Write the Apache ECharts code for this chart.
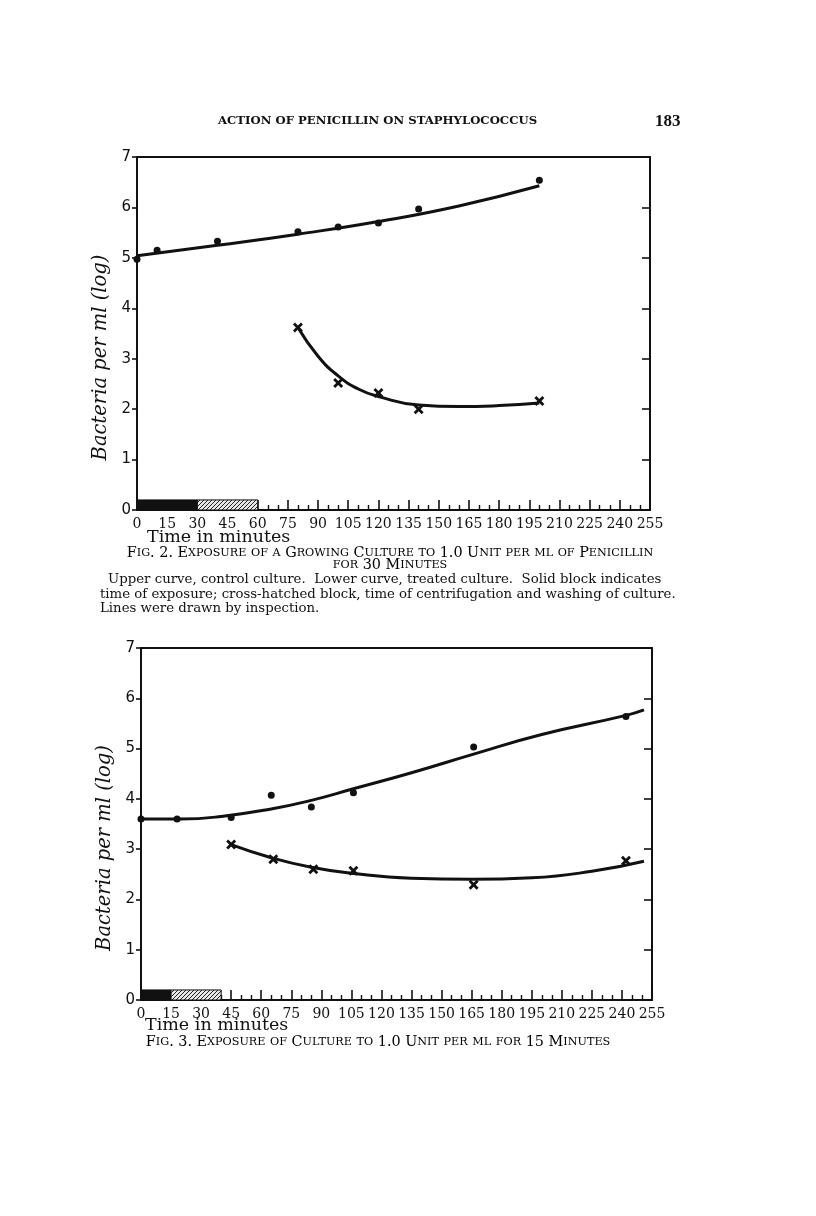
<!DOCTYPE html>
<html><head><meta charset="utf-8">
<script src="https://cdn.jsdelivr.net/npm/echarts@6/dist/echarts.min.js"></script>
<style>html,body{margin:0;padding:0;background:#fff}#c{width:816px;height:1216px}</style>
</head><body><div id="c"></div>
<script>
// ---------- DATA ----------
const xTicks = [0,15,30,45,60,75,90,105,120,135,150,165,180,195,210,225,240,255];
const yTicks = [0,1,2,3,4,5,6,7];

// Fig. 2 – control culture (dots) and drawn line
const fig2CtrlTime = [0,10,40,80,100,120,140,200];
const fig2CtrlLog  = [4.97,5.15,5.33,5.52,5.61,5.69,5.97,6.54];
const fig2CtrlLineTime = [0,40,80,120,160,200];
const fig2CtrlLineLog  = [5.04,5.25,5.47,5.72,6.03,6.43];
// Fig. 2 – treated culture (crosses) and drawn line
const fig2TreatTime = [80,100,120,140,200];
const fig2TreatLog  = [3.62,2.52,2.32,2.0,2.16];
const fig2TreatLineTime = [80,90,100,110,120,140,160,180,200];
const fig2TreatLineLog  = [3.62,3.05,2.66,2.40,2.25,2.08,2.05,2.07,2.12];
// Fig. 2 blocks: [start, end] minutes
const fig2Exposure = [0,30];
const fig2Washing  = [30,60];

// Fig. 3 – control culture
const fig3CtrlTime = [0,18,45,65,85,106,166,242];
const fig3CtrlLog  = [3.6,3.6,3.63,4.07,3.84,4.12,5.03,5.64];
const fig3CtrlLineTime = [0,20,40,65,85,106,135,166,200,242,251];
const fig3CtrlLineLog  = [3.6,3.6,3.65,3.8,3.97,4.2,4.52,4.89,5.28,5.66,5.77];
// Fig. 3 – treated culture
const fig3TreatTime = [45,66,86,106,166,242];
const fig3TreatLog  = [3.09,2.8,2.6,2.57,2.29,2.77];
const fig3TreatLineTime = [45,65,85,105,135,165,195,225,251];
const fig3TreatLineLog  = [3.09,2.83,2.64,2.52,2.42,2.4,2.43,2.56,2.76];
// Fig. 3 blocks
const fig3Exposure = [0,15];
const fig3Washing  = [15,40];

// ---------- TEXT ----------
const headerText = 'ACTION OF PENICILLIN ON STAPHYLOCOCCUS';
const pageNo = '183';
const yName = 'Bacteria per ml (log)';
const xName = 'Time in minutes';
const fig2Cap1 = 'Fig. 2. Exposure of a Growing Culture to 1.0 Unit per ml of Penicillin';
const fig2Cap2 = 'for 30 Minutes';
const fig2Para = ['Upper curve, control culture.  Lower curve, treated culture.  Solid block indicates',
  'time of exposure; cross-hatched block, time of centrifugation and washing of culture.',
  'Lines were drawn by inspection.'];
const fig3Cap = 'Fig. 3. Exposure of Culture to 1.0 Unit per ml for 15 Minutes';

// ---------- BUILD ----------
const zip = (a,b) => a.map((v,i)=>[v,b[i]]);
const INK = '#111';
const BLOCK_H = 0.2;

function hatch(){
  const c = document.createElement('canvas'); c.width=4; c.height=4;
  const g = c.getContext('2d');
  g.fillStyle='#e8e8e8'; g.fillRect(0,0,4,4);
  g.strokeStyle='#222'; g.lineWidth=1;
  g.beginPath(); g.moveTo(0,4); g.lineTo(4,0); g.moveTo(-1,1); g.lineTo(1,-1); g.moveTo(3,5); g.lineTo(5,3); g.stroke();
  return c;
}
const hatchImg = hatch();

function smallCaps(str){
  let out=''; let i=0;
  while(i<str.length){
    const isLow = /[a-z]/.test(str[i]);
    let j=i; while(j<str.length && (/[a-z]/.test(str[j]))===isLow) j++;
    const seg=str.slice(i,j);
    out += isLow ? '{s|'+seg.toUpperCase()+'}' : '{b|'+seg+'}';
    i=j;
  }
  return out;
}
const scRich = {b:{fontFamily:'DejaVu Serif',fontSize:14.4,color:INK}, s:{fontFamily:'DejaVu Serif',fontSize:11.2,color:INK}};

const crossSym = 'path://M0,2L2,0L5,3L8,0L10,2L7,5L10,8L8,10L5,7L2,10L0,8L3,5Z';

function grids(){ return [
  {left:137, top:157, width:513, height:353},
  {left:141, top:648, width:511, height:352}
];}

function xAxes(gi){
  return [
    {type:'value', gridIndex:gi, position:'bottom', min:0, max:255, interval:15,
     axisLine:{show:true,lineStyle:{color:INK,width:2}},
     axisTick:{show:true,inside:true,length:10,lineStyle:{color:INK,width:1.6}},
     minorTick:{show:true,splitNumber:3,length:5,lineStyle:{color:INK,width:1.4}},
     splitLine:{show:false},
     axisLabel:{margin:7,color:INK,fontFamily:'DejaVu Serif',fontSize:14,
       customValues: xTicks, formatter:v=>String(v)}},
    {type:'value', gridIndex:gi, position:'top', min:0, max:255,
     axisLine:{show:true,onZero:false,lineStyle:{color:INK,width:2}},
     axisTick:{show:false}, axisLabel:{show:false}, splitLine:{show:false}}
  ];
}
function yAxes(gi){
  return [
    {type:'value', gridIndex:gi, position:'left', min:0, max:7, interval:1,
     name:yName, nameLocation:'middle', nameGap:14, nameRotate:90,
     nameTextStyle:{fontFamily:'DejaVu Serif',fontStyle:'italic',fontSize:19.5,color:INK,padding:[0,48,0,0]},
     axisLine:{show:true,onZero:false,lineStyle:{color:INK,width:2}},
     axisTick:{show:true,inside:false,length:5,lineStyle:{color:INK,width:1.6}},
     splitLine:{show:false},
     axisLabel:{margin:6,color:INK,fontFamily:'DejaVu Sans',fontSize:15,customValues:yTicks}},
    {type:'value', gridIndex:gi, position:'right', min:0, max:7, interval:1,
     axisLine:{show:true,onZero:false,lineStyle:{color:INK,width:2}},
     axisTick:{show:true,inside:true,length:8,lineStyle:{color:INK,width:1.6}},
     axisLabel:{show:false}, splitLine:{show:false}}
  ];
}

function blockSeries(xi, yi, exp, wash){
  return {type:'custom', xAxisIndex:xi, yAxisIndex:yi, z:5,
    data:[[exp[0],exp[1],0],[wash[0],wash[1],1]],
    renderItem:(params,api)=>{
      const a=api.coord([api.value(0),0]); const b=api.coord([api.value(1),BLOCK_H]);
      const k=api.value(2);
      return {type:'rect', shape:{x:a[0],y:b[1],width:b[0]-a[0],height:a[1]-b[1]},
        style:{fill: k===0? INK : {image:hatchImg, repeat:'repeat'}, stroke:INK, lineWidth:1}};
    }};
}
function lineSeries(xi, yi, t, v){
  return {type:'line', xAxisIndex:xi, yAxisIndex:yi, data:zip(t,v), smooth:0.5, showSymbol:false,
    lineStyle:{color:INK,width:3}, z:3, silent:true};
}
function dotSeries(xi, yi, t, v){
  return {type:'scatter', xAxisIndex:xi, yAxisIndex:yi, data:zip(t,v), symbol:'circle', symbolSize:7,
    itemStyle:{color:INK, opacity:1}, z:4};
}
function crossSeries(xi, yi, t, v){
  return {type:'scatter', xAxisIndex:xi, yAxisIndex:yi, data:zip(t,v), symbol:crossSym, symbolSize:10,
    itemStyle:{color:INK, opacity:1}, z:4};
}

const chart = echarts.init(document.getElementById('c'), null, {renderer:'canvas'});
const option = {
  backgroundColor:'#fff',
  animation:false,
  grid: grids(),
  xAxis: [...xAxes(0), ...xAxes(1)],
  yAxis: [...yAxes(0), ...yAxes(1)],
  series: [
    lineSeries(0,0,fig2CtrlLineTime,fig2CtrlLineLog),
    dotSeries(0,0,fig2CtrlTime,fig2CtrlLog),
    lineSeries(0,0,fig2TreatLineTime,fig2TreatLineLog),
    crossSeries(0,0,fig2TreatTime,fig2TreatLog),
    blockSeries(0,0,fig2Exposure,fig2Washing),
    lineSeries(2,2,fig3CtrlLineTime,fig3CtrlLineLog),
    dotSeries(2,2,fig3CtrlTime,fig3CtrlLog),
    lineSeries(2,2,fig3TreatLineTime,fig3TreatLineLog),
    crossSeries(2,2,fig3TreatTime,fig3TreatLog),
    blockSeries(2,2,fig3Exposure,fig3Washing)
  ],
  graphic: [
    {type:'text', left:218, top:115, style:{text:headerText, font:'bold 11.7px "DejaVu Serif"', fill:INK}},
    {type:'text', left:655, top:113, style:{text:pageNo, font:'bold 17px "Liberation Serif"', fill:INK}},
    {type:'text', left:147, top:528, style:{text:xName, font:'17.5px "DejaVu Serif"', fill:INK}},
    {type:'text', left:145, top:1016, style:{text:xName, font:'17.5px "DejaVu Serif"', fill:INK}},
    {type:'text', x:390, y:553, style:{text:smallCaps(fig2Cap1), rich:scRich, align:'center', verticalAlign:'middle'}},
    {type:'text', x:390, y:565, style:{text:smallCaps(fig2Cap2), rich:scRich, align:'center', verticalAlign:'middle'}},
    {type:'text', left:108, top:573, style:{text:fig2Para[0], font:'13.3px "DejaVu Serif"', fill:INK}},
    {type:'text', left:100, top:588, style:{text:fig2Para[1], font:'13.3px "DejaVu Serif"', fill:INK}},
    {type:'text', left:100, top:602, style:{text:fig2Para[2], font:'13.3px "DejaVu Serif"', fill:INK}},
    {type:'text', x:378, y:1042, style:{text:smallCaps(fig3Cap), rich:scRich, align:'center', verticalAlign:'middle'}}
  ]
};
chart.setOption(option);
</script></body></html>
